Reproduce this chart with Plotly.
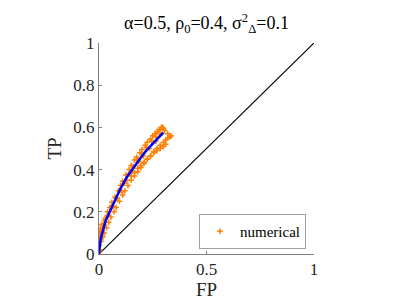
import plotly.graph_objects as go

# Theory curve (blue)
fp_theory = [0, 0.002, 0.005, 0.01, 0.02, 0.03, 0.05, 0.07, 0.1, 0.13, 0.16, 0.19, 0.22, 0.25, 0.28, 0.30]
tp_theory = [0, 0.03, 0.05, 0.08, 0.12, 0.155, 0.2, 0.245, 0.31, 0.365, 0.41, 0.45, 0.49, 0.525, 0.555, 0.575]

# Numerical points (orange), read as several tracks
fp_a = [0.002, 0.005, 0.01, 0.015, 0.02, 0.03, 0.04, 0.05, 0.06, 0.075, 0.09, 0.1, 0.11, 0.125, 0.14, 0.15, 0.165, 0.175, 0.19, 0.2, 0.215, 0.225, 0.24, 0.25, 0.26, 0.27, 0.28, 0.29, 0.295, 0.30]
tp_a = [0.04, 0.07, 0.1, 0.12, 0.14, 0.17, 0.2, 0.22, 0.245, 0.27, 0.3, 0.325, 0.345, 0.375, 0.4, 0.42, 0.445, 0.46, 0.48, 0.495, 0.515, 0.53, 0.545, 0.56, 0.57, 0.58, 0.59, 0.6, 0.6, 0.595]

fp_b = [0.003, 0.01, 0.018, 0.025, 0.035, 0.045, 0.055, 0.07, 0.08, 0.095, 0.11, 0.12, 0.135, 0.15, 0.165, 0.18, 0.195, 0.21, 0.225, 0.24, 0.255, 0.27, 0.285, 0.3, 0.31, 0.32, 0.33, 0.335]
tp_b = [0.02, 0.06, 0.08, 0.1, 0.125, 0.15, 0.175, 0.2, 0.22, 0.25, 0.28, 0.3, 0.325, 0.35, 0.37, 0.39, 0.41, 0.43, 0.45, 0.465, 0.485, 0.5, 0.515, 0.53, 0.54, 0.55, 0.555, 0.56]

fp_c = [0.15, 0.165, 0.18, 0.195, 0.21, 0.225, 0.24, 0.255, 0.27, 0.285, 0.3, 0.31]
tp_c = [0.37, 0.385, 0.405, 0.42, 0.435, 0.45, 0.465, 0.48, 0.49, 0.5, 0.51, 0.52]

fp_d = [0.0, 0.0, 0.001, 0.003, 0.006, 0.012, 0.025, 0.04, 0.065, 0.085, 0.105, 0.13, 0.155, 0.185, 0.205, 0.235, 0.265, 0.285]
tp_d = [0.01, 0.05, 0.08, 0.1, 0.12, 0.14, 0.16, 0.18, 0.225, 0.265, 0.3, 0.35, 0.395, 0.44, 0.465, 0.5, 0.535, 0.565]

fp_e = [0.008, 0.022, 0.038, 0.058, 0.078, 0.098, 0.118, 0.14, 0.16, 0.18, 0.2, 0.22, 0.245, 0.265, 0.285, 0.305, 0.32]
tp_e = [0.1, 0.14, 0.18, 0.225, 0.265, 0.3, 0.335, 0.38, 0.415, 0.445, 0.475, 0.505, 0.535, 0.555, 0.575, 0.585, 0.57]

diag = [0, 1]
x_ticks = [0, 0.5, 1]
y_ticks = [0, 0.2, 0.4, 0.6, 0.8, 1]

orange = "#FF8000"
serif = "Liberation Serif"

fig = go.Figure()
fig.add_trace(go.Scatter(x=diag, y=diag, mode="lines", line=dict(color="black", width=1.2),
                         showlegend=False, hoverinfo="skip"))

first = True
for fx, fy in [(fp_a, tp_a), (fp_b, tp_b), (fp_c, tp_c), (fp_d, tp_d), (fp_e, tp_e)]:
    fig.add_trace(go.Scatter(
        x=fx, y=fy, mode="markers", name="numerical", showlegend=first,
        marker=dict(symbol="cross-thin", size=4, color=orange, line=dict(color=orange, width=1.5)),
    ))
    first = False

fig.add_trace(go.Scatter(x=fp_theory, y=tp_theory, mode="lines",
                         line=dict(color="#0000FF", width=2.5), showlegend=False))

def axis_style(ticks, title, standoff):
    return dict(
        range=[0, 1], showgrid=False, zeroline=False, showline=True,
        linecolor="#808080", linewidth=1, ticks="inside", ticklen=3, tickcolor="#808080",
        tickfont=dict(family=serif, size=17, color="#262626"),
        tickvals=ticks, ticktext=[f"{t:g}" for t in ticks],
        title=dict(text=title, font=dict(family=serif, size=19, color="#262626"), standoff=standoff),
    )

fig.update_layout(
    width=399, height=299,
    margin=dict(l=91, r=93, t=35, b=53),
    paper_bgcolor="white", plot_bgcolor="white",
    font=dict(family=serif, color="#262626"),
    title=dict(text="α=0.5, ρ<sub>0</sub>=0.4, σ<sup>2</sup><sub>Δ</sub>=0.1",
               x=0.5, xref="paper", xanchor="center", y=0.95, yanchor="middle",
               font=dict(family=serif, size=18, color="black")),
    legend=dict(x=0.963, y=0.024, xanchor="right", yanchor="bottom",
                bordercolor="#A0A0A0", borderwidth=1, bgcolor="white",
                itemwidth=30, tracegroupgap=0,
                font=dict(family=serif, size=15, color="black")),
)
fig.update_xaxes(**axis_style(x_ticks, "FP", 0))
fig.update_yaxes(**axis_style(y_ticks, "TP", 6))

fig.write_html("out.html")
